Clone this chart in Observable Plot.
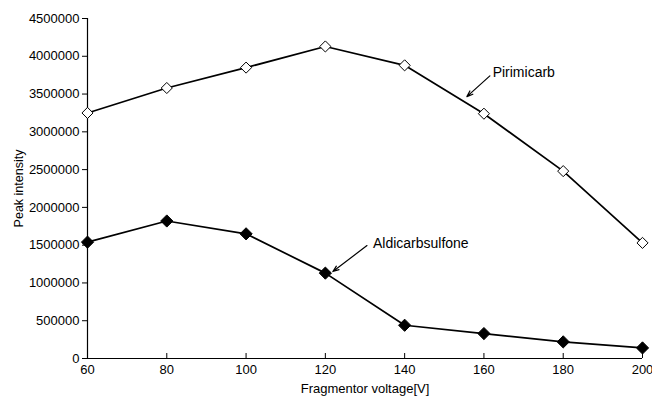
<!DOCTYPE html>
<html><head><meta charset="utf-8">
<script src="https://cdn.jsdelivr.net/npm/d3@7"></script>
<script src="https://cdn.jsdelivr.net/npm/@observablehq/plot@0.6"></script>
<style>body{margin:0;background:#fff;font-family:"Liberation Sans",Arial,sans-serif;}</style>
</head><body><div id="chart"></div>
<script>
const voltages = [60, 80, 100, 120, 140, 160, 180, 200];
const pirimicarb = [3250000, 3580000, 3850000, 4130000, 3880000, 3240000, 2480000, 1530000];
const aldicarbsulfone = [1540000, 1820000, 1650000, 1130000, 440000, 330000, 220000, 140000];
const yTicks = [0, 500000, 1000000, 1500000, 2000000, 2500000, 3000000, 3500000, 4000000, 4500000];
const xTicks = [60, 80, 100, 120, 140, 160, 180, 200];
const labels = [
  {name: "Pirimicarb", x: 162.2, y: 3780000, ax1: 161.5, ay1: 3740000, ax2: 155.7, ay2: 3466000},
  {name: "Aldicarbsulfone", x: 132, y: 1520000, ax1: 130.5, ay1: 1495000, ax2: 121.9, ay2: 1151000}
];

const pData = voltages.map((v, i) => ({x: v, y: pirimicarb[i]}));
const aData = voltages.map((v, i) => ({x: v, y: aldicarbsulfone[i]}));

const chart = Plot.plot({
  width: 652, height: 401,
  marginLeft: 87, marginRight: 10, marginTop: 18, marginBottom: 43,
  style: {fontFamily: "Liberation Sans, Arial, sans-serif", fontSize: "13px", color: "#000", background: "#fff"},
  x: {domain: [60, 200]},
  y: {domain: [0, 4500000]},
  marks: [
    Plot.axisY({ticks: yTicks, tickFormat: d => String(d), tickSize: 5, tickPadding: 3, label: null, fontSize: 13}),
    Plot.axisX({ticks: xTicks, tickSize: 0, tickPadding: 6, label: null, fontSize: 13}),
    Plot.ruleX(xTicks, {x: d => d, y1: 0, y2: 0, insetTop: -5, stroke: "#000"}),
    Plot.ruleX([60], {stroke: "#000", strokeWidth: 1.2}),
    Plot.ruleY([0], {stroke: "#000", strokeWidth: 1.2}),
    Plot.line(pData, {x: "x", y: "y", stroke: "#000", strokeWidth: 1.7}),
    Plot.line(aData, {x: "x", y: "y", stroke: "#000", strokeWidth: 1.7}),
    Plot.dot(pData, {x: "x", y: "y", symbol: "diamond2", r: 5, stroke: "#000", fill: "#fff", strokeWidth: 1}),
    Plot.dot(aData, {x: "x", y: "y", symbol: "diamond2", r: 5.5, fill: "#000", stroke: "#000", strokeWidth: 1}),
    Plot.arrow(labels, {x1: "ax1", y1: "ay1", x2: "ax2", y2: "ay2", stroke: "#000", strokeWidth: 1.2, headLength: 8, headAngle: 40}),
    Plot.text(labels, {x: "x", y: "y", text: "name", textAnchor: "start", fontSize: 14, fill: "#000"}),
    Plot.text(["Fragmentor voltage[V]"], {frameAnchor: "bottom", dy: 34, text: d => d, fontSize: 13, fill: "#000"}),
    Plot.text(["Peak intensity"], {frameAnchor: "left", textAnchor: "middle", dx: -69, rotate: -90, text: d => d, fontSize: 12.5, fill: "#000"})
  ]
});
document.getElementById("chart").appendChild(chart);
</script></body></html>
